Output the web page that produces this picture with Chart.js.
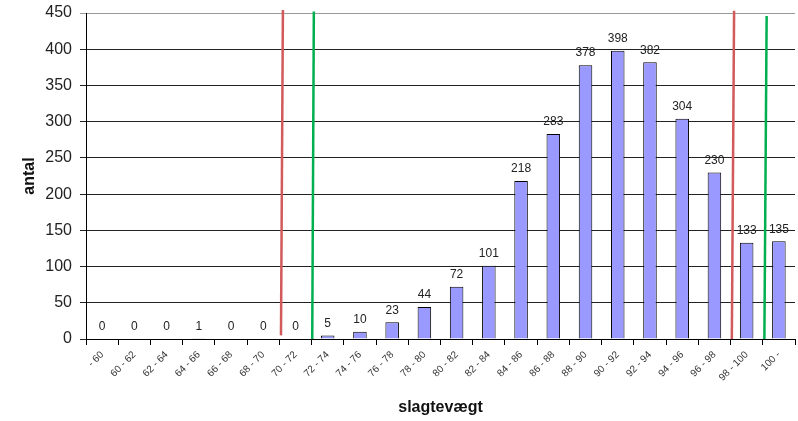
<!DOCTYPE html>
<html>
<head>
<meta charset="utf-8">
<script src="https://cdn.jsdelivr.net/npm/chart.js@4"></script>
<style>
    html, body { margin: 0; padding: 0; background: #fff; }
    #wrap { width: 798px; height: 421px; }
</style>
</head>
<body>
<div id="wrap"><canvas id="chart-bar--chart" width="798" height="421"></canvas></div>
<script>
const labels_bar = [
    '- 60', '60 - 62', '62 - 64', '64 - 66', '66 - 68', '68 - 70', '70 - 72',
    '72 - 74', '74 - 76', '76 - 78', '78 - 80', '80 - 82', '82 - 84', '84 - 86',
    '86 - 88', '88 - 90', '90 - 92', '92 - 94', '94 - 96', '96 - 98', '98 - 100', '100 -'
];
const counts_bar = [0, 0, 0, 1, 0, 0, 0, 5, 10, 23, 44, 72, 101, 218, 283, 378, 398, 382, 304, 230, 133, 135];

// limit lines, x in category-boundary units (0 = left edge, 22 = right edge)
const red_left = [{x: 6.05, y: 5}, {x: 6.11, y: 454}];
const green_left = [{x: 7.02, y: 0}, {x: 7.07, y: 452}];
const red_right = [{x: 20.04, y: 0}, {x: 20.11, y: 453}];
const green_right = [{x: 21.05, y: 0}, {x: 21.12, y: 446}];

const y_min = 0;
const y_max = 450;
const y_step = 50;

// value labels above the bars
const valueLabels = {
    id: 'valueLabels',
    afterDatasetsDraw(chart) {
        const ctx = chart.ctx;
        const meta = chart.getDatasetMeta(0);
        ctx.save();
        ctx.font = '12px "Liberation Sans", Arial, sans-serif';
        ctx.fillStyle = '#222';
        ctx.textAlign = 'center';
        ctx.textBaseline = 'bottom';
        meta.data.forEach((bar, i) => {
            ctx.fillText(String(counts_bar[i]), bar.x, bar.y - 6);
        });
        ctx.restore();
    }
};

const lineSet = (pts, color) => ({
    type: 'line',
    data: pts,
    xAxisID: 'x2',
    borderColor: color,
    borderWidth: 2.5,
    pointRadius: 0,
    fill: false,
    clip: false,
});

const data_bar = {
    labels: labels_bar,
    datasets: [{
        label: 'antal',
        data: counts_bar,
        backgroundColor: '#9999ff',
        borderColor: '#000',
        borderWidth: 1,
        grouped: false,
        barPercentage: 0.42,
        categoryPercentage: 1.0,
    },
    lineSet(red_left, 'rgb(210, 90, 90)'),
    lineSet(green_left, 'rgb(0, 176, 80)'),
    lineSet(red_right, 'rgb(210, 90, 90)'),
    lineSet(green_right, 'rgb(0, 176, 80)')]
};

const config_bar = {
    type: 'bar',
    data: data_bar,
    plugins: [valueLabels],
    options: {
        responsive: false,
        animation: false,
        layout: { padding: { top: 13, right: 3, bottom: 0, left: 0 } },
        plugins: {
            legend: { display: false },
            tooltip: { enabled: false },
        },
        scales: {
            x: {
                offset: true,
                grid: {
                    display: true,
                    drawOnChartArea: false,
                    drawTicks: true,
                    tickLength: 6,
                    color: '#000',
                    offset: true,
                },
                border: { color: '#000', width: 1 },
                ticks: {
                    autoSkip: false,
                    minRotation: 45,
                    maxRotation: 45,
                    padding: 4,
                    color: '#333',
                    font: { family: '"Liberation Sans", Arial, sans-serif', size: 10 },
                },
                title: {
                    display: true,
                    text: 'slagtevægt',
                    color: '#111',
                    padding: { top: 4, bottom: 4 },
                    font: { family: '"Liberation Sans", Arial, sans-serif', size: 16, weight: 'bold' },
                },
                afterFit: (scale) => { scale.height = 82; },
            },
            x2: {
                type: 'linear',
                min: 0,
                max: 22,
                offset: false,
                grid: { offset: false },
                display: false,
            },
            y: {
                min: y_min,
                max: y_max,
                ticks: {
                    stepSize: y_step,
                    padding: 8,
                    color: '#222',
                    font: { family: '"Liberation Sans", Arial, sans-serif', size: 16 },
                },
                grid: {
                    color: (c) => (c.tick && c.tick.value === y_max) ? '#999' : '#222',
                    lineWidth: 1,
                    tickLength: 6,
                },
                border: { color: '#000', width: 1 },
                title: {
                    display: true,
                    text: 'antal',
                    color: '#111',
                    padding: { top: 20, bottom: 0 },
                    font: { family: '"Liberation Sans", Arial, sans-serif', size: 16, weight: 'bold' },
                },
                afterFit: (scale) => {
                    scale.width = 86;
                    scale.paddingTop = 2;
                    scale.paddingBottom = 2;
                },
            }
        }
    }
};

var chart_bar = new Chart(
    document.getElementById('chart-bar--chart'),
    config_bar
);
</script>
</body>
</html>
